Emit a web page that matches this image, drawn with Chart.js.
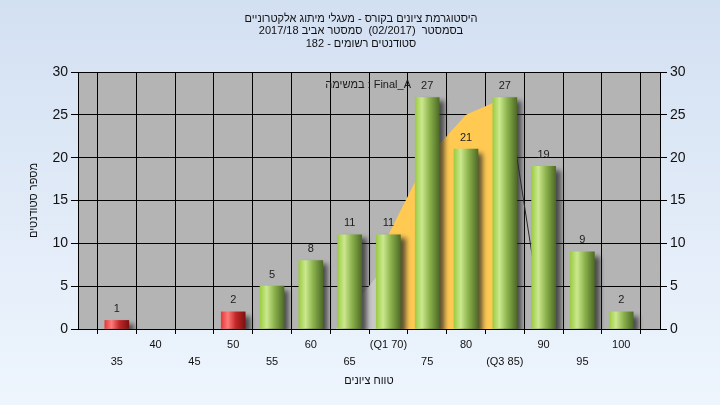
<!DOCTYPE html>
<html>
<head>
<meta charset="utf-8">
<script src="https://cdn.jsdelivr.net/npm/chart.js@4.4.0/dist/chart.umd.min.js"></script>
<style>
html,body{margin:0;padding:0;background:#e4edf8;}
#wrap{width:720px;height:405px;}
</style>
</head>
<body>
<div id="wrap"><canvas id="myChart" width="720" height="405"></canvas></div>
<script>
var titleLines = [
    "היסטוגרמת ציונים בקורס - מעגלי מיתוג אלקטרוניים",
    "בסמסטר  (02/2017)  סמסטר אביב 2017/18",
    "סטודנטים רשומים - 182"
];
var taskLabel = "במשימה : Final_A";
var xTitle = "טווח ציונים";
var yTitle = "מספר סטודנטים";

var scores = [35, 40, 45, 50, 55, 60, 65, 70, 75, 80, 85, 90, 95, 100];
var counts = [1, 0, 0, 2, 5, 8, 11, 11, 27, 21, 27, 19, 9, 2];
var passMark = 55;
var quartileLabels = {70: "(Q1 70)", 85: "(Q3 85)"};

// overlay shapes behind the bars (score, value)
var midCurveX = [70, 75, 80, 85];
var midCurveY = [11, 20, 25, 27];
var lowTailX = [63.2, 70];
var lowTailY = [0, 7.9];
var highTailX = [86.5, 90];
var highTailY = [20.4, 0];

var FONT = "'Liberation Sans', Arial, sans-serif";

function pts(xs, ys) {
    return xs.map(function (x, i) { return {x: x, y: ys[i]}; });
}

function barFill(c) {
    var chart = c.chart;
    var xs = chart.scales && chart.scales.x;
    if (c.type === "data" && !counts[c.dataIndex]) return "rgba(0,0,0,0)";
    var red = scores[c.dataIndex] < passMark;
    var solid = red ? "#d83030" : "#94c440";
    if (!xs || c.type !== "data") return solid;
    var px = xs.getPixelForValue(scores[c.dataIndex]);
    if (!isFinite(px)) return solid;
    var g = chart.ctx.createLinearGradient(px - 12, 0, px + 12, 0);
    if (red) {
        g.addColorStop(0, "#e23a3a");
        g.addColorStop(0.28, "#ff7a7a");
        g.addColorStop(0.6, "#c42828");
        g.addColorStop(1, "#7e1010");
    } else {
        g.addColorStop(0, "#9ccc44");
        g.addColorStop(0.28, "#cbe88e");
        g.addColorStop(0.6, "#8cb24c");
        g.addColorStop(1, "#4e6c26");
    }
    return g;
}

var bgPlugin = {
    id: "bg",
    beforeDraw: function (chart) {
        var ctx = chart.ctx, a = chart.chartArea;
        ctx.save();
        var g = ctx.createLinearGradient(0, 0, 0, chart.height);
        g.addColorStop(0, "#d3e0f2");
        g.addColorStop(1, "#eef5fd");
        ctx.fillStyle = g;
        ctx.fillRect(0, 0, chart.width, chart.height);
        ctx.fillStyle = "#b4b4b4";
        ctx.fillRect(a.left, a.top, a.right - a.left, a.bottom - a.top);
        ctx.restore();
    }
};

var shadowPlugin = {
    id: "shadow",
    beforeDatasetDraw: function (chart, args) {
        if (args.index !== 0) return;
        var ctx = chart.ctx;
        ctx.save();
        ctx.shadowColor = "rgba(40,40,40,0.75)";
        ctx.shadowBlur = 5;
        ctx.shadowOffsetX = 5;
        ctx.shadowOffsetY = 4;
    },
    afterDatasetDraw: function (chart, args) {
        if (args.index !== 0) return;
        chart.ctx.restore();
    }
};

var textPlugin = {
    id: "texts",
    afterDatasetsDraw: function (chart) {
        var ctx = chart.ctx;
        var meta = chart.getDatasetMeta(0);
        ctx.save();
        ctx.font = "11px " + FONT;
        ctx.fillStyle = "#1c1c1c";
        ctx.textAlign = "center";
        ctx.textBaseline = "middle";
        meta.data.forEach(function (el, i) {
            if (!counts[i]) return;
            ctx.fillText(String(counts[i]), el.x, el.y - 11.5);
        });
        ctx.direction = "ltr";
        ctx.textAlign = "right";
        ctx.fillText(taskLabel, 411, 85);
        ctx.restore();

        ctx.save();
        ctx.direction = "rtl";
        ctx.font = "11px " + FONT;
        ctx.fillStyle = "#111";
        ctx.textAlign = "center";
        ctx.textBaseline = "alphabetic";
        titleLines.forEach(function (t, i) {
            ctx.fillText(t, 361, 22 + i * 12.3);
        });
        ctx.restore();
    }
};

var ctx = document.getElementById("myChart").getContext("2d");
var myChart = new Chart(ctx, {
    type: "bar",
    data: {
        datasets: [
            {
                type: "bar",
                data: pts(scores, counts),
                backgroundColor: barFill,
                borderWidth: 0,
                barThickness: 24,
                yAxisID: "y",
                order: 0
            },
            {
                type: "line",
                data: pts(midCurveX, midCurveY),
                backgroundColor: "#ffc952",
                borderWidth: 0,
                pointRadius: 0,
                fill: "origin",
                yAxisID: "y",
                order: 2
            },
            {
                type: "line",
                data: pts(lowTailX, lowTailY),
                backgroundColor: "#c8c8c8",
                borderWidth: 0,
                pointRadius: 0,
                fill: "origin",
                yAxisID: "y",
                order: 3
            },
            {
                type: "line",
                data: pts(highTailX, highTailY),
                borderColor: "#2a2a2a",
                borderWidth: 1,
                pointRadius: 0,
                fill: false,
                yAxisID: "y",
                order: 1
            }
        ]
    },
    options: {
        responsive: false,
        animation: false,
        layout: {padding: {top: 72, left: 0, right: 0, bottom: 0}},
        plugins: {
            legend: {display: false},
            tooltip: {enabled: false},
            title: {display: false}
        },
        scales: {
            x: {
                type: "linear",
                min: 30,
                max: 105,
                offset: false,
                afterFit: function (s) { s.height = 76; },
                grid: {color: "#000", tickColor: "#000", tickLength: 5, lineWidth: 1},
                border: {color: "#000"},
                ticks: {
                    stepSize: 5,
                    autoSkip: false,
                    maxRotation: 0,
                    padding: 3,
                    color: "#111",
                    font: {family: FONT, size: 11, lineHeight: "16.5px"},
                    callback: function (v) {
                        if (v < 35 || v > 100) return "";
                        var t = quartileLabels[v] || String(v);
                        return v % 10 === 5 ? ["", t] : t;
                    }
                },
                title: {
                    display: true,
                    text: xTitle,
                    color: "#111",
                    font: {family: FONT, size: 11},
                    padding: {top: 0, bottom: 17}
                }
            },
            y: {
                position: "left",
                min: 0,
                max: 30,
                afterFit: function (s) { s.width = 78; },
                grid: {color: "#000", tickColor: "#000", tickLength: 7, lineWidth: 1},
                border: {color: "#000"},
                ticks: {
                    stepSize: 5,
                    padding: 3,
                    color: "#111",
                    font: {family: FONT, size: 14}
                },
                title: {
                    display: true,
                    text: yTitle,
                    color: "#111",
                    font: {family: FONT, size: 11},
                    padding: {top: 27, bottom: 0}
                }
            },
            y2: {
                position: "right",
                min: 0,
                max: 30,
                afterFit: function (s) { s.width = 60; },
                grid: {drawOnChartArea: false, tickColor: "#000", tickLength: 7},
                border: {color: "#000"},
                ticks: {
                    stepSize: 5,
                    padding: 3,
                    color: "#111",
                    font: {family: FONT, size: 14}
                }
            }
        }
    },
    plugins: [bgPlugin, shadowPlugin, textPlugin]
});
</script>
</body>
</html>
